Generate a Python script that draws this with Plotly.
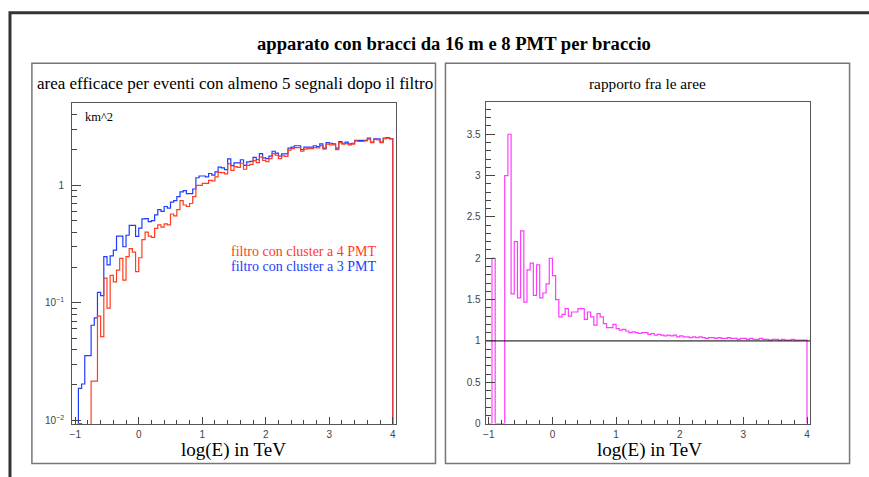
import numpy as np
import plotly.graph_objects as go

# ---------------- data (100 bins of 0.05 in log(E) from -1 to 4) ----------------
bin_lo = -1.0
bin_w = 0.05

blue_3pmt = [
    0.0, 0.0187, 0.0204, 0.0356, 0.0356, 0.0645, 0.0744, 0.123, 0.115, 0.247,
    0.21, 0.251, 0.281, 0.37, 0.37, 0.30, 0.376, 0.456, 0.456, 0.368,
    0.433, 0.518, 0.52, 0.49, 0.50, 0.56, 0.62, 0.60, 0.66, 0.64,
    0.72, 0.74, 0.80, 0.88, 0.90, 0.85, 0.85, 0.93, 1.16, 1.20,
    1.20, 1.18, 1.26, 1.22, 1.30, 1.43, 1.41, 1.36, 1.68, 1.47,
    1.55, 1.55, 1.65, 1.48, 1.58, 1.60, 1.73, 1.65, 1.86, 1.71,
    1.69, 1.77, 1.95, 1.88, 1.77, 1.85, 1.85, 2.07, 2.11, 2.17,
    2.17, 2.01, 2.11, 2.11, 2.11, 2.17, 2.14, 2.25, 2.07, 2.31,
    2.28, 2.25, 2.07, 2.36, 2.28, 2.33, 2.25, 2.28, 2.41, 2.41,
    2.41, 2.41, 2.52, 2.33, 2.48, 2.48, 2.33, 2.52, 2.55, 2.50,
]

ratio = [
    0.0, 2.0, 0.0, 0.0, 0.0, 3.0, 3.5, 1.57, 2.2, 1.52,
    2.33, 1.47, 1.86, 1.94, 1.55, 1.92, 1.52, 1.58, 1.69, 2.0,
    1.79, 1.5, 1.29, 1.32, 1.39, 1.30, 1.35, 1.35, 1.39, 1.39,
    1.26, 1.35, 1.29, 1.19, 1.33, 1.29, 1.21, 1.16, 1.16, 1.20,
    1.15, 1.13, 1.14, 1.12, 1.10, 1.11, 1.10, 1.09, 1.10, 1.10,
    1.08, 1.09, 1.07, 1.08, 1.07, 1.06, 1.07, 1.06, 1.07, 1.05,
    1.06, 1.05, 1.05, 1.04, 1.05, 1.04, 1.05, 1.04, 1.03, 1.04,
    1.04, 1.03, 1.04, 1.03, 1.03, 1.04, 1.03, 1.03, 1.02, 1.03,
    1.03, 1.02, 1.03, 1.02, 1.02, 1.03, 1.02, 1.02, 1.01, 1.02,
    1.02, 1.01, 1.02, 1.01, 1.01, 1.02, 1.01, 1.01, 1.01, 1.01,
]

red_4pmt = [
    0.0, 0.0094, 0.0, 0.0, 0.0, 0.0216, 0.0216, 0.077, 0.0515, 0.162,
    0.090, 0.171, 0.151, 0.19, 0.239, 0.156, 0.247, 0.289, 0.27, 0.184,
    0.242, 0.345, 0.40, 0.37, 0.36, 0.43, 0.46, 0.44, 0.47, 0.46,
    0.57, 0.55, 0.62, 0.74, 0.68, 0.66, 0.70, 0.80, 1.00, 1.00,
    1.04, 1.04, 1.10, 1.09, 1.18, 1.29, 1.28, 1.25, 1.53, 1.34,
    1.44, 1.42, 1.54, 1.37, 1.48, 1.51, 1.62, 1.56, 1.74, 1.63,
    1.59, 1.69, 1.86, 1.81, 1.69, 1.78, 1.76, 1.99, 2.05, 2.09,
    2.09, 1.95, 2.03, 2.05, 2.05, 2.09, 2.08, 2.18, 2.03, 2.24,
    2.21, 2.21, 2.01, 2.31, 2.24, 2.26, 2.21, 2.24, 2.39, 2.36,
    2.36, 2.39, 2.47, 2.31, 2.46, 2.43, 2.31, 2.50, 2.52, 2.48,
]

x_ticks = [-1, 0, 1, 2, 3, 4]
ylog_tickvals = [0.01, 0.1, 1]
ylog_ticktext = ["10<sup>\u22122</sup>", "10<sup>\u22121</sup>", "1"]
ratio_tickvals = [0, 0.5, 1, 1.5, 2, 2.5, 3, 3.5]
ratio_ticktext = ["0", "0.5", "1", "1.5", "2", "2.5", "3", "3.5"]

main_title = "apparato con bracci da 16 m e 8 PMT per braccio"
left_title = "area efficace per eventi con almeno 5 segnali dopo il filtro"
right_title = "rapporto fra le aree"
x_title = "log(E) in TeV"
y_unit = "km^2"
leg_red = "filtro con cluster a 4 PMT"
leg_blue = "filtro con cluster a 3 PMT"

# ---------------- helpers ----------------
n = len(ratio)
edges = bin_lo + bin_w * np.arange(n + 1)


def step(vals, floor=None):
    v = np.asarray(vals, dtype=float)
    if floor is not None:
        v = np.where(v > 0, v, floor)
        base = floor
    else:
        base = 0.0
    xs = np.concatenate([[edges[0]], edges[:-1], [edges[-1], edges[-1]]])
    ys = np.concatenate([[base], v, [v[-1], base]])
    return xs, ys


W, H = 869, 477


def px(x):
    return x / W


def py(y):
    return 1 - y / H


RED = "#ff3c1e"
BLUE = "#1e3cff"
MAG = "#ff3cff"
SERIF = "Liberation Serif, Times New Roman, serif"
SANS = "Liberation Sans, Arial, sans-serif"

fig = go.Figure()

xb, yb = step(blue_3pmt, floor=1e-4)
xr, yr = step(red_4pmt, floor=1e-4)
fig.add_trace(go.Scatter(x=xb, y=yb, mode="lines", line=dict(color=BLUE, width=1.2, shape="hv"),
                         xaxis="x", yaxis="y", showlegend=False, hoverinfo="skip"))
fig.add_trace(go.Scatter(x=xr, y=yr, mode="lines", line=dict(color=RED, width=1.2, shape="hv"),
                         xaxis="x", yaxis="y", showlegend=False, hoverinfo="skip"))

xm, ym = step(ratio)
fig.add_trace(go.Scatter(x=xm, y=ym, mode="lines", line=dict(color=MAG, width=1.2, shape="hv"),
                         xaxis="x2", yaxis="y2", showlegend=False, hoverinfo="skip"))
fig.add_trace(go.Scatter(x=[-1.05, 4.05], y=[1, 1], mode="lines", line=dict(color="black", width=1),
                         xaxis="x2", yaxis="y2", showlegend=False, hoverinfo="skip"))

axis_common = dict(showgrid=False, zeroline=False, showline=True, mirror=True,
                   linecolor="#555555", linewidth=1, ticks="inside", tickcolor="#444444",
                   tickfont=dict(family=SANS, size=10, color="#444444"))

xaxis_common = dict(axis_common, range=[-1.05, 4.05], tickvals=x_ticks, ticklen=7,
                    ticklabelstandoff=1,
                    minor=dict(dtick=0.2, tick0=-1, ticks="inside", ticklen=4, tickcolor="#444444"))

fig.update_layout(
    width=W, height=H, margin=dict(l=0, r=0, t=0, b=0),
    paper_bgcolor="white", plot_bgcolor="white",
    xaxis=dict(xaxis_common, domain=[px(69.3), px(394.3)], anchor="y"),
    yaxis=dict(axis_common, type="log", range=[-2.03, 0.703], domain=[py(429.3), py(104)], anchor="x",
               tickvals=ylog_tickvals, ticktext=ylog_ticktext, ticklen=9, ticklabelstandoff=5,
               minor=dict(dtick="D1", ticks="inside", ticklen=5, tickcolor="#444444")),
    xaxis2=dict(xaxis_common, domain=[px(484.3), px(810)], anchor="y2"),
    yaxis2=dict(axis_common, range=[0, 3.89], domain=[py(429), py(103.3)], anchor="x2",
                tickvals=ratio_tickvals, ticktext=ratio_ticktext, ticklen=9, ticklabelstandoff=2,
                minor=dict(dtick=0.1, tick0=0, ticks="inside", ticklen=5, tickcolor="#444444")),
)

# frames (outer canvas border and pads)
shapes = [
    dict(type="rect", xref="paper", yref="paper", x0=px(7), x1=px(880), y0=py(490), y1=py(13),
         line=dict(color="#333333", width=3)),
    dict(type="rect", xref="paper", yref="paper", x0=px(29), x1=px(434), y0=py(469.5), y1=py(64),
         line=dict(color="#777777", width=1.5)),
    dict(type="rect", xref="paper", yref="paper", x0=px(444), x1=px(849.5), y0=py(469.5), y1=py(64),
         line=dict(color="#777777", width=1.5)),
]
fig.update_layout(shapes=shapes)

ann = [
    dict(text="<b>" + main_title + "</b>", x=px(453), y=py(44), font=dict(family=SERIF, size=18.6, color="black")),
    dict(text=left_title, x=px(233), y=py(85), font=dict(family=SERIF, size=17, color="black")),
    dict(text=right_title, x=px(647), y=py(85), font=dict(family=SERIF, size=15.3, color="black")),
    dict(text=x_title, x=px(231), y=py(456), font=dict(family=SERIF, size=19, color="black")),
    dict(text=x_title, x=px(649), y=py(456), font=dict(family=SERIF, size=19, color="black")),
    dict(text=y_unit, x=px(80), y=py(118), xanchor="left", font=dict(family=SERIF, size=12.5, color="black")),
    dict(text=leg_red, x=px(227), y=py(255), xanchor="left", font=dict(family=SERIF, size=14, color=RED)),
    dict(text=leg_blue, x=px(227), y=py(270), xanchor="left", font=dict(family=SERIF, size=14, color=BLUE)),
]
for a in ann:
    a.update(xref="paper", yref="paper", showarrow=False)
    a.setdefault("xanchor", "center")
    a.setdefault("yanchor", "middle")
fig.update_layout(annotations=ann)

fig.write_html("out.html", config={"displayModeBar": False},
               post_script="document.body.style.margin='0px';document.body.style.overflow='hidden';")
